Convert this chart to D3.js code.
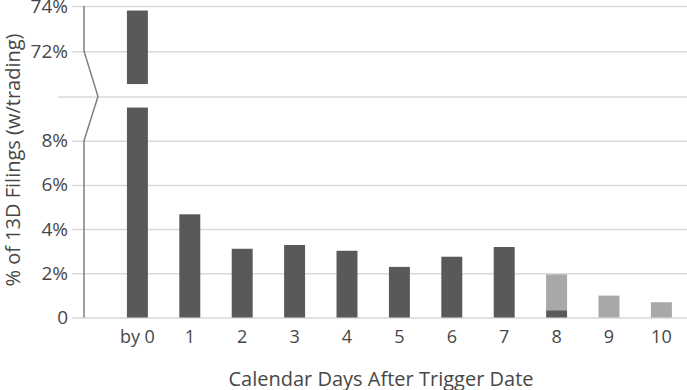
<!DOCTYPE html>
<html>
<head>
<meta charset="utf-8">
<script src="https://cdn.jsdelivr.net/npm/d3@7"></script>
<style>
  html, body { margin: 0; padding: 0; background: #fff; }
  svg { display: block; font-family: "Open Sans", sans-serif; }
</style>
</head>
<body>
<svg id="chart" width="687" height="390"></svg>
<script>
// ---- data ----
const categories = ["by 0", "1", "2", "3", "4", "5", "6", "7", "8", "9", "10"];
const darkValues = [73.8, 4.67, 3.11, 3.28, 3.02, 2.29, 2.75, 3.19, 0.33, 0, 0];
const lightValues = [0, 0, 0, 0, 0, 0, 0, 0, 1.62, 0.99, 0.69];
const tickValues = [0, 2, 4, 6, 8, 10, 72, 74];
const tickLabels = ["0", "2%", "4%", "6%", "8%", "", "72%", "74%"];
const breakLow = 9.5;    // lower segment of the broken bar ends here
const breakHigh = 70.55; // upper segment of the broken bar starts here
const xTitle = "Calendar Days After Trigger Date";
const yTitle = "% of 13D Filings (w/trading)";

// ---- layout ----
const W = 687, H = 390;
const svg = d3.select("#chart");
const darkColor = "#595959", lightColor = "#a9a7a7", gridColor = "#d9d9d9", textColor = "#474747";

// broken y scale: lower part 0..10, upper part 70..74
const y = d3.scaleLinear().domain([0, 10, 70, 74]).range([317.5, 96.5, 96.5, 6]);
const x = d3.scaleBand().domain(categories).range([111.2, 687.6]).padding(0);
const barW = x.bandwidth() * 0.4;
const axisX = 84;

// gridlines + tick labels via axis
const yAxis = d3.axisLeft(y)
  .tickValues(tickValues)
  .tickFormat((d, i) => tickLabels[i])
  .tickSize(-(W - 72))
  .tickPadding(4);
const gAxis = svg.append("g").attr("transform", "translate(72,0)").call(yAxis);
gAxis.select(".domain").remove();
gAxis.selectAll(".tick line").attr("stroke", gridColor).attr("stroke-width", 1.5);
gAxis.selectAll(".tick text")
  .attr("fill", textColor)
  .style("font-size", "19px")
  .style("font-family", "'Open Sans', sans-serif");
// break gridline extends further left
gAxis.selectAll(".tick").filter(d => d === 10).select("line")
  .attr("x1", 58 - 72);

// bars
const gBars = svg.append("g");
categories.forEach((c, i) => {
  const cx = x(c) + x.bandwidth() / 2;
  const v = darkValues[i];
  if (v > breakLow) {
    gBars.append("rect")
      .attr("x", cx - barW / 2).attr("width", barW)
      .attr("y", y(breakLow)).attr("height", y(0) - y(breakLow))
      .attr("fill", darkColor);
    gBars.append("rect")
      .attr("x", cx - barW / 2).attr("width", barW)
      .attr("y", y(v)).attr("height", y(breakHigh) - y(v))
      .attr("fill", darkColor);
  } else {
    if (v > 0) {
      gBars.append("rect")
        .attr("x", cx - barW / 2).attr("width", barW)
        .attr("y", y(v)).attr("height", y(0) - y(v))
        .attr("fill", darkColor);
    }
    const l = lightValues[i];
    if (l > 0) {
      gBars.append("rect")
        .attr("x", cx - barW / 2).attr("width", barW)
        .attr("y", y(v + l)).attr("height", y(v) - y(v + l))
        .attr("fill", lightColor);
    }
  }
});

// vertical axis line with zigzag break
const axisPts = [[axisX, y(74)], [axisX, y(72)], [axisX + 14, y(10)], [axisX, y(8)], [axisX, y(0)]];
svg.append("path")
  .attr("d", d3.line()(axisPts))
  .attr("fill", "none")
  .attr("stroke", "#7f7f7f")
  .attr("stroke-width", 1.5);

// x tick labels
const xAxis = d3.axisBottom(x).tickSize(0).tickPadding(0);
const gX = svg.append("g").attr("transform", "translate(0,330)").call(xAxis);
gX.select(".domain").remove();
gX.selectAll(".tick text")
  .attr("fill", textColor)
  .attr("dy", "0.71em")
  .style("font-size", "18px")
  .style("font-family", "'Open Sans', sans-serif");

// titles
svg.append("text")
  .attr("x", 381).attr("y", 386)
  .attr("text-anchor", "middle")
  .attr("fill", textColor)
  .style("font-size", "20px")
  .text(xTitle);
svg.append("text")
  .attr("transform", "translate(20,160) rotate(-90)")
  .attr("text-anchor", "middle")
  .attr("fill", textColor)
  .style("font-size", "20px")
  .text(yTitle);
</script>
</body>
</html>
